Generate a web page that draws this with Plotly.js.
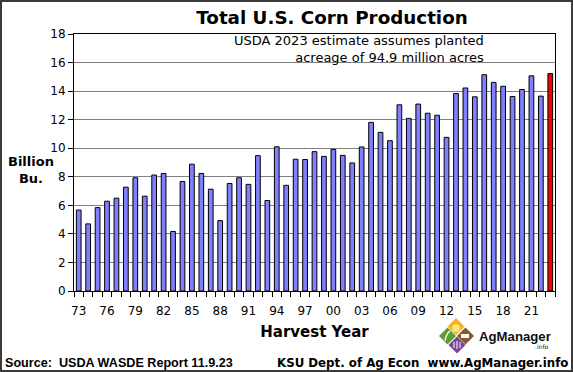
<!DOCTYPE html>
<html>
<head>
<meta charset="utf-8">
<script src="https://cdn.plot.ly/plotly-3.0.1.min.js"></script>
<style>
  html, body { margin: 0; padding: 0; background: #fff; }
  #wrap { position: relative; width: 573px; height: 372px; }
  #chart { width: 573px; height: 372px; }
  #frame { position: absolute; left: 0; top: 0; width: 569px; height: 368px; border: 2px solid #3a3a3a; pointer-events: none; }
</style>
</head>
<body>
<div id="wrap"><div id="chart"></div><div id="frame"></div></div>
<script>
// ---- data ----
const years = [1973,1974,1975,1976,1977,1978,1979,1980,1981,1982,
               1983,1984,1985,1986,1987,1988,1989,1990,1991,1992,
               1993,1994,1995,1996,1997,1998,1999,2000,2001,2002,
               2003,2004,2005,2006,2007,2008,2009,2010,2011,2012,
               2013,2014,2015,2016,2017,2018,2019,2020,2021,2022,
               2023];
const production = [5.67,4.70,5.84,6.29,6.50,7.27,7.93,6.64,8.12,8.23,
                    4.17,7.67,8.88,8.23,7.13,4.93,7.53,7.93,7.47,9.48,
                    6.34,10.10,7.40,9.23,9.21,9.76,9.43,9.92,9.50,8.97,
                    10.09,11.81,11.11,10.53,13.04,12.09,13.09,12.45,12.31,10.76,
                    13.83,14.22,13.60,15.15,14.61,14.34,13.62,14.11,15.07,13.65,
                    15.23];
const estimateYear = 2023;
const tickYears = [1973,1976,1979,1982,1985,1988,1991,1994,1997,2000,2003,2006,2009,2012,2015,2018,2021];
const tickLabels = ['73','76','79','82','85','88','91','94','97','00','03','06','09','12','15','18','21'];
const yTicks = [0,2,4,6,8,10,12,14,16,18];

// ---- layout helpers (pixel -> paper) ----
const W = 573, H = 372, ML = 74, MR = 18, MT = 34, MB = 81;
const PW = W - ML - MR, PH = H - MT - MB;
const px = x => (x - ML) / PW;
const py = y => (H - MB - y) / PH;

const colors = years.map(y => y === estimateYear ? '#ff0000' : '#8080ff');

const trace = {
  type: 'bar',
  x: years,
  y: production,
  width: 0.5,
  marker: { color: colors, line: { color: '#000', width: 1 } },
  hoverinfo: 'x+y'
};

function diamond(cx, cy, r, fill) {
  return {
    type: 'path', xref: 'paper', yref: 'paper', layer: 'above',
    path: `M ${px(cx)} ${py(cy - r)} L ${px(cx + r)} ${py(cy)} L ${px(cx)} ${py(cy + r)} L ${px(cx - r)} ${py(cy)} Z`,
    fillcolor: fill, line: { width: 0 }
  };
}

const shapes = [
  diamond(456, 326.5, 8.5, '#f2b21c'),
  diamond(447.5, 336, 8.5, '#5c9d35'),
  diamond(465.5, 336, 8.5, '#8a5a2e'),
  diamond(457, 345, 8.5, '#7c4697'),
  { type: 'circle', xref: 'paper', yref: 'paper', layer: 'above',
    x0: px(452), x1: px(460), y0: py(332), y1: py(324),
    fillcolor: '#fbe37a', line: { width: 0 } },
  { type: 'path', xref: 'paper', yref: 'paper', layer: 'above',
    path: `M ${px(445)} ${py(341)} Q ${px(446)} ${py(334)} ${px(450)} ${py(331)}`,
    line: { color: '#fff', width: 1.2 } },
  { type: 'rect', xref: 'paper', yref: 'paper', layer: 'above',
    x0: px(461), x1: px(469), y0: py(338), y1: py(334),
    fillcolor: '#fff', line: { width: 0 } },
  { type: 'path', xref: 'paper', yref: 'paper', layer: 'above',
    path: `M ${px(454)} ${py(348)} L ${px(454)} ${py(342)} M ${px(457)} ${py(349)} L ${px(457)} ${py(341)} M ${px(460)} ${py(348)} L ${px(460)} ${py(342)}`,
    line: { color: '#fff', width: 1 } }
];

const layout = {
  width: W, height: H,
  margin: { l: ML, r: MR, t: MT, b: MB },
  paper_bgcolor: '#fff', plot_bgcolor: '#fff',
  showlegend: false,
  font: { family: 'DejaVu Sans, Verdana, sans-serif', size: 12, color: '#000' },
  title: {
    text: '<b>Total U.S. Corn Production</b>',
    font: { family: 'DejaVu Sans, Verdana, sans-serif', size: 18.3, color: '#000' },
    x: 332 / W, xanchor: 'center', xref: 'container',
    y: 1 - 18 / H, yanchor: 'middle', yref: 'container'
  },
  bargap: 0.5,
  xaxis: {
    range: [1972.5, 2023.5],
    tickmode: 'array', tickvals: tickYears, ticktext: tickLabels,
    ticks: '', showgrid: false, zeroline: false,
    showline: true, linecolor: '#000', linewidth: 1, mirror: true,
    ticklabelstandoff: 9,
    tickfont: { size: 12, color: '#000' },
    minor: { tickmode: 'linear', tick0: 1972.5, dtick: 1, ticks: 'outside', ticklen: 5, tickcolor: '#000', tickwidth: 1, showgrid: false },
    title: { text: '<b>Harvest Year</b>', font: { size: 15, color: '#000' }, standoff: 9 }
  },
  yaxis: {
    range: [0, 18],
    tickmode: 'array', tickvals: yTicks,
    ticks: 'outside', ticklen: 5, tickcolor: '#000',
    showgrid: true, gridcolor: '#808080', gridwidth: 1,
    zeroline: false,
    showline: true, linecolor: '#000', linewidth: 1, mirror: true,
    tickfont: { size: 12, color: '#000' }
  },
  shapes: shapes,
  annotations: [
    { xref: 'paper', yref: 'paper', x: px(486), y: py(49), xanchor: 'right', yanchor: 'middle',
      align: 'right', showarrow: false,
      text: 'USDA 2023 estimate assumes planted<br>acreage of 94.9 million acres',
      font: { size: 13, color: '#000' } },
    { xref: 'paper', yref: 'paper', x: px(31), y: py(170), xanchor: 'center', yanchor: 'middle',
      showarrow: false, text: '<b>Billion<br>Bu.</b>', font: { size: 13, color: '#000' } },
    { xref: 'paper', yref: 'paper', x: px(3), y: py(363), xanchor: 'left', yanchor: 'middle',
      showarrow: false, text: '<b>Source:  USDA WASDE Report 11.9.23</b>',
      font: { family: 'Liberation Sans, Arial, sans-serif', size: 12.6, color: '#000' } },
    { xref: 'paper', yref: 'paper', x: px(570), y: py(363), xanchor: 'right', yanchor: 'middle',
      showarrow: false, text: '<b>KSU Dept. of Ag Econ  www.AgManager.info</b>',
      font: { size: 11.8, color: '#000' } },
    { xref: 'paper', yref: 'paper', x: px(477), y: py(336), xanchor: 'left', yanchor: 'middle',
      showarrow: false, text: '<b>AgManager</b>', font: { family: 'Liberation Sans, Arial, sans-serif', size: 13.2, color: '#111' } },
    { xref: 'paper', yref: 'paper', x: px(550), y: py(346), xanchor: 'right', yanchor: 'middle',
      showarrow: false, text: '.info', font: { size: 6, color: '#111' } }
  ]
};

Plotly.newPlot('chart', [trace], layout, { displayModeBar: false, staticPlot: true });
</script>
</body>
</html>
